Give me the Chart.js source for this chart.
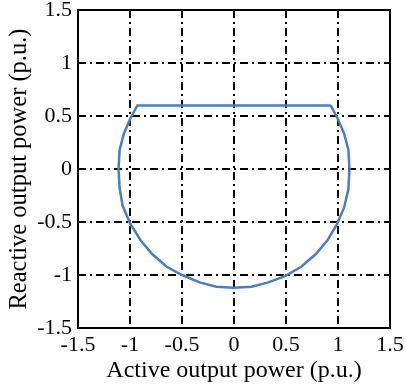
<!DOCTYPE html>
<html>
<head>
<meta charset="utf-8">
<script src="https://cdn.jsdelivr.net/npm/chart.js@4.4.1/dist/chart.umd.min.js"></script>
<style>
  html, body { margin:0; padding:0; background:#fff; }
  #wrap { width:406px; height:385px; position:relative; }
</style>
</head>
<body>
<div id="wrap"><canvas id="c"></canvas></div>
<script>
// capability curve (p.u.)
const activeP = [0.93, 1.0, 1.06, 1.1, 1.11, 1.1, 1.06, 0.99, 0.9, 0.79, 0.65, 0.49, 0.33, 0.17, 0,
  -0.17, -0.33, -0.5, -0.65, -0.79, -0.9, -1.0, -1.07, -1.1, -1.11, -1.1, -1.06, -1.0, -0.93, 0.93];
const reactiveQ = [0.6, 0.47, 0.33, 0.18, 0, -0.19, -0.36, -0.52, -0.67, -0.8, -0.92, -1.01, -1.07, -1.11, -1.12,
  -1.11, -1.07, -1.0, -0.92, -0.8, -0.67, -0.51, -0.35, -0.18, 0, 0.18, 0.33, 0.47, 0.6, 0.6];
const ticks = [-1.5, -1, -0.5, 0, 0.5, 1, 1.5];

const pts = activeP.map((p, i) => ({ x: p, y: reactiveQ[i] }));
const tickFont = { family: 'Liberation Serif', size: 22 };
const DASH = [8, 4, 2, 4];

const gridCfg = {
  color: c => (Math.abs(c.tick.value) === 1.5 ? 'rgba(0,0,0,0)' : '#000'),
  lineWidth: 2,
  drawTicks: false,
  borderDash: DASH
};

const boxPlugin = {
  id: 'box',
  afterDraw(chart) {
    const a = chart.chartArea, ctx = chart.ctx;
    ctx.save();
    ctx.strokeStyle = '#000';
    ctx.lineWidth = 2;
    ctx.setLineDash([]);
    ctx.strokeRect(a.left, a.top, a.right - a.left, a.bottom - a.top);
    ctx.restore();
  }
};

new Chart(document.getElementById('c'), {
  type: 'scatter',
  data: {
    datasets: [{
      data: pts,
      showLine: true,
      borderColor: '#4a7ebf',
      borderWidth: 2.5,
      pointRadius: 0,
      tension: 0,
      fill: false
    }]
  },
  options: {
    responsive: true,
    maintainAspectRatio: false,
    animation: false,
    layout: { padding: { left: 0, right: 16, top: 10, bottom: 0 } },
    plugins: { legend: { display: false }, tooltip: { enabled: false } },
    scales: {
      x: {
        type: 'linear', min: -1.5, max: 1.5,
        afterBuildTicks: s => { s.ticks = ticks.map(v => ({ value: v })); },
        afterFit: s => { s.height = 57; s.paddingLeft = 0; s.paddingRight = 0; },
        grid: gridCfg,
        border: { display: false, dash: DASH },
        ticks: { color: '#000', font: tickFont, padding: 4, maxRotation: 0, autoSkip: false, callback: v => String(v) },
        title: { display: true, text: 'Active output power (p.u.)', color: '#000',
          font: { family: 'Liberation Serif', size: 24 }, padding: { top: -6, bottom: 0 } }
      },
      y: {
        type: 'linear', min: -1.5, max: 1.5,
        afterBuildTicks: s => { s.ticks = ticks.map(v => ({ value: v })); },
        afterFit: s => { s.width = 78; s.paddingTop = 0; s.paddingBottom = 0; },
        grid: gridCfg,
        border: { display: false, dash: DASH },
        ticks: { color: '#000', font: tickFont, padding: 6, autoSkip: false, callback: v => String(v) },
        title: { display: true, text: 'Reactive output power (p.u.)', color: '#000',
          font: { family: 'Liberation Serif', size: 24.5 }, padding: { top: 5, bottom: 0 } }
      }
    }
  },
  plugins: [boxPlugin]
});
</script>
</body>
</html>
